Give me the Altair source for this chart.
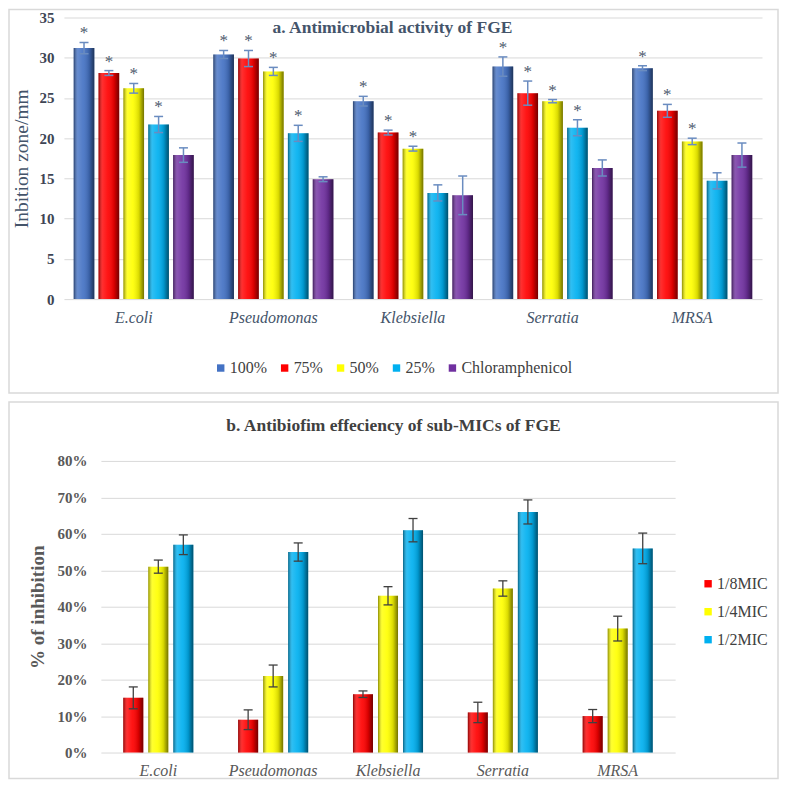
import altair as alt
import pandas as pd

SERIF = "Liberation Serif"

# ---------------- data : panel a ----------------
organisms = ["E.coli", "Pseudomonas", "Klebsiella", "Serratia", "MRSA"]
conc_a = ["100%", "75%", "50%", "25%", "Chloramphenicol"]
zone_100 = [31.2, 30.4, 24.6, 28.9, 28.7]
zone_75 = [28.1, 29.9, 20.7, 25.6, 23.4]
zone_50 = [26.2, 28.3, 18.7, 24.6, 19.6]
zone_25 = [21.7, 20.6, 13.2, 21.3, 14.7]
zone_chl = [17.9, 14.9, 12.9, 16.3, 17.9]
err_100 = [0.7, 0.5, 0.6, 1.2, 0.3]
err_75 = [0.3, 1.0, 0.3, 1.5, 0.8]
err_50 = [0.6, 0.5, 0.3, 0.2, 0.4]
err_25 = [1.0, 1.0, 1.0, 1.0, 1.0]
err_chl = [0.9, 0.3, 2.4, 1.0, 1.5]
sig_100 = [True, True, True, True, True]
sig_75 = [True, True, True, True, True]
sig_50 = [True, True, True, True, True]
sig_25 = [True, True, False, True, False]
sig_chl = [False, False, False, False, False]
ticks_a = [0, 5, 10, 15, 20, 25, 30, 35]
colors_a = ["#4472C4", "#FF0000", "#FFFF00", "#00B0F0", "#7030A0"]
title_a = "a. Antimicrobial activity of FGE"

# ---------------- data : panel b ----------------
conc_b = ["1/8MIC", "1/4MIC", "1/2MIC"]
inh_8 = [0.15, 0.09, 0.16, 0.11, 0.10]
inh_4 = [0.51, 0.21, 0.43, 0.45, 0.34]
inh_2 = [0.57, 0.55, 0.61, 0.66, 0.56]
err_8 = [0.030, 0.027, 0.009, 0.028, 0.018]
err_4 = [0.018, 0.030, 0.025, 0.021, 0.034]
err_2 = [0.027, 0.025, 0.032, 0.033, 0.042]
ticks_b = [0, 0.1, 0.2, 0.3, 0.4, 0.5, 0.6, 0.7, 0.8]
colors_b = ["#FF0000", "#FFFF00", "#00B0F0"]
title_b = "b. Antibiofim effeciency of sub-MICs of FGE"

rows_a = []
for conc, vals, errs, sigs in zip(conc_a,
                                  [zone_100, zone_75, zone_50, zone_25, zone_chl],
                                  [err_100, err_75, err_50, err_25, err_chl],
                                  [sig_100, sig_75, sig_50, sig_25, sig_chl]):
    for org, v, e, s in zip(organisms, vals, errs, sigs):
        rows_a.append(dict(organism=org, conc=conc, value=v, lo=v - e, hi=v + e,
                           star="*" if s else ""))
df_a = pd.DataFrame(rows_a)

rows_b = []
for conc, vals, errs in zip(conc_b, [inh_8, inh_4, inh_2], [err_8, err_4, err_2]):
    for org, v, e in zip(organisms, vals, errs):
        rows_b.append(dict(organism=org, conc=conc, value=v, lo=v - e, hi=v + e))
df_b = pd.DataFrame(rows_b)

shade = alt.LinearGradient(
    gradient="linear", x1=0, x2=1, y1=0, y2=0,
    stops=[
        alt.GradientStop(color="rgba(0,0,0,0.45)", offset=0),
        alt.GradientStop(color="rgba(255,255,255,0.18)", offset=0.2),
        alt.GradientStop(color="rgba(255,255,255,0.08)", offset=0.45),
        alt.GradientStop(color="rgba(0,0,0,0.15)", offset=0.75),
        alt.GradientStop(color="rgba(0,0,0,0.55)", offset=1),
    ],
)

# ---------------- panel a ----------------
W_A, H_A = 699, 282
axis_ya = alt.Axis(values=ticks_a, title="Inbition zone/mm",
                   titleFont=SERIF, titleFontSize=19.5, titleFontWeight="normal",
                   titleColor="#44546A", titlePadding=7,
                   labelFont=SERIF, labelFontSize=15, labelFontWeight="bold",
                   labelColor="#3E4554", labelPadding=10, labelOverlap=False,
                   grid=True, gridColor="#D9D9D9", gridWidth=1,
                   domain=False, ticks=False)
scale_ya = alt.Scale(domain=[0, 35], nice=False)


def ya(field):
    return alt.Y(field, scale=scale_ya, axis=axis_ya)


base_a = alt.Chart(df_a).encode(
    x=alt.X("organism:N", sort=organisms,
            scale=alt.Scale(domain=organisms, paddingInner=0.14, paddingOuter=0.07),
            axis=alt.Axis(title=None, labelAngle=0, labelFont=SERIF, labelFontStyle="italic",
                          labelFontSize=16, labelColor="#44546A", ticks=False, domain=False,
                          labelPadding=10)),
    xOffset=alt.XOffset("conc:N", sort=conc_a,
                        scale=alt.Scale(domain=conc_a, paddingInner=0.17)),
)
bars_a = base_a.mark_bar().encode(
    y=ya("value:Q"),
    color=alt.Color("conc:N", sort=conc_a,
                    scale=alt.Scale(domain=conc_a, range=colors_a),
                    legend=alt.Legend(title=None, orient="none", direction="horizontal",
                                      legendX=149, legendY=343, symbolType="square",
                                      symbolSize=55, symbolStrokeWidth=0,
                                      labelFont=SERIF, labelFontSize=16, labelColor="#404040",
                                      columnPadding=9, labelOffset=1)),
)
shade_a = base_a.mark_bar(color=shade).encode(y=ya("value:Q"))
rule_a = base_a.mark_rule(color="#6A8CC0", strokeWidth=1.5).encode(y=ya("lo:Q"), y2="hi:Q")
caph_a = base_a.mark_tick(color="#6A8CC0", size=9, thickness=1.5, opacity=1).encode(y=ya("hi:Q"))
capl_a = base_a.mark_tick(color="#6A8CC0", size=9, thickness=1.5, opacity=1).encode(y=ya("lo:Q"))
star_a = base_a.mark_text(font=SERIF, fontSize=17, color="#4E5A6E", dy=-9,
                          baseline="middle").encode(y=ya("hi:Q"), text="star:N")
ttl_a = alt.Chart(pd.DataFrame({"t": [title_a]})).mark_text(
    font=SERIF, fontSize=17.5, fontWeight="bold", color="#44546A", align="center",
    baseline="middle").encode(x=alt.value(329), y=alt.value(11), text="t:N")
frame_a = alt.Chart(pd.DataFrame({"f": [0]})).mark_rect(
    fillOpacity=0, stroke="#D9D9D9", strokeWidth=1.5).encode(
    x=alt.value(-55), x2=alt.value(715), y=alt.value(-8), y2=alt.value(376))

panel_a = alt.layer(frame_a, bars_a, shade_a, rule_a, caph_a, capl_a, star_a, ttl_a).properties(
    width=W_A, height=H_A)

# ---------------- panel b ----------------
# view starts at the same x as panel a; the plot itself begins 37 px further right
W_B, H_B = 612, 292
axis_yb = alt.Axis(values=ticks_b, format=".0%", title="% of inhibition", offset=-37,
                   titleFont=SERIF, titleFontSize=19, titleFontWeight="bold",
                   titleColor="#595959", titlePadding=9,
                   labelFont=SERIF, labelFontSize=15, labelFontWeight="bold",
                   labelColor="#595959", labelPadding=14, labelOverlap=False,
                   grid=True, gridColor="#D9D9D9", gridWidth=1,
                   domain=False, ticks=False)
scale_yb = alt.Scale(domain=[0, 0.8], nice=False)


def yb(field):
    return alt.Y(field, scale=scale_yb, axis=axis_yb)


base_b = alt.Chart(df_b).encode(
    x=alt.X("organism:N", sort=organisms,
            scale=alt.Scale(domain=organisms, range=[37, 612],
                            paddingInner=0.39, paddingOuter=0.195),
            axis=alt.Axis(title=None, labelAngle=0, labelFont=SERIF, labelFontStyle="italic",
                          labelFontSize=16, labelColor="#595959", ticks=False, domain=False,
                          labelPadding=10)),
    xOffset=alt.XOffset("conc:N", sort=conc_b,
                        scale=alt.Scale(domain=conc_b, paddingInner=0.2)),
)
bars_b = base_b.mark_bar().encode(
    y=yb("value:Q"),
    color=alt.Color("conc:N", sort=conc_b,
                    scale=alt.Scale(domain=conc_b, range=colors_b),
                    legend=alt.Legend(title=None, orient="none", direction="vertical",
                                      legendX=637, legendY=115, symbolType="square",
                                      symbolSize=55, symbolStrokeWidth=0,
                                      labelFont=SERIF, labelFontSize=16, labelColor="#404040",
                                      rowPadding=12, labelOffset=1)),
)
shade_b = base_b.mark_bar(color=shade).encode(y=yb("value:Q"))
rule_b = base_b.mark_rule(color="#404040", strokeWidth=1.3).encode(y=yb("lo:Q"), y2="hi:Q")
caph_b = base_b.mark_tick(color="#404040", size=9, thickness=1.3, opacity=1).encode(y=yb("hi:Q"))
capl_b = base_b.mark_tick(color="#404040", size=9, thickness=1.3, opacity=1).encode(y=yb("lo:Q"))
ttl_b = alt.Chart(pd.DataFrame({"t": [title_b]})).mark_text(
    font=SERIF, fontSize=17.5, fontWeight="bold", color="#404040", align="center",
    baseline="middle").encode(x=alt.value(330), y=alt.value(-35), text="t:N")
frame_b = alt.Chart(pd.DataFrame({"f": [0]})).mark_rect(
    fillOpacity=0, stroke="#D9D9D9", strokeWidth=1.5).encode(
    x=alt.value(-55), x2=alt.value(715), y=alt.value(-59), y2=alt.value(318))

panel_b = alt.layer(frame_b, bars_b, shade_b, rule_b, caph_b, capl_b, ttl_b).properties(
    width=W_B, height=H_B)

chart = alt.vconcat(panel_a, panel_b, spacing=7).resolve_scale(
    color="independent", x="independent", y="independent", xOffset="independent"
).properties(padding=0).configure_view(strokeOpacity=0)

chart.save("out.html", embed_options={"renderer": "svg", "actions": False})
